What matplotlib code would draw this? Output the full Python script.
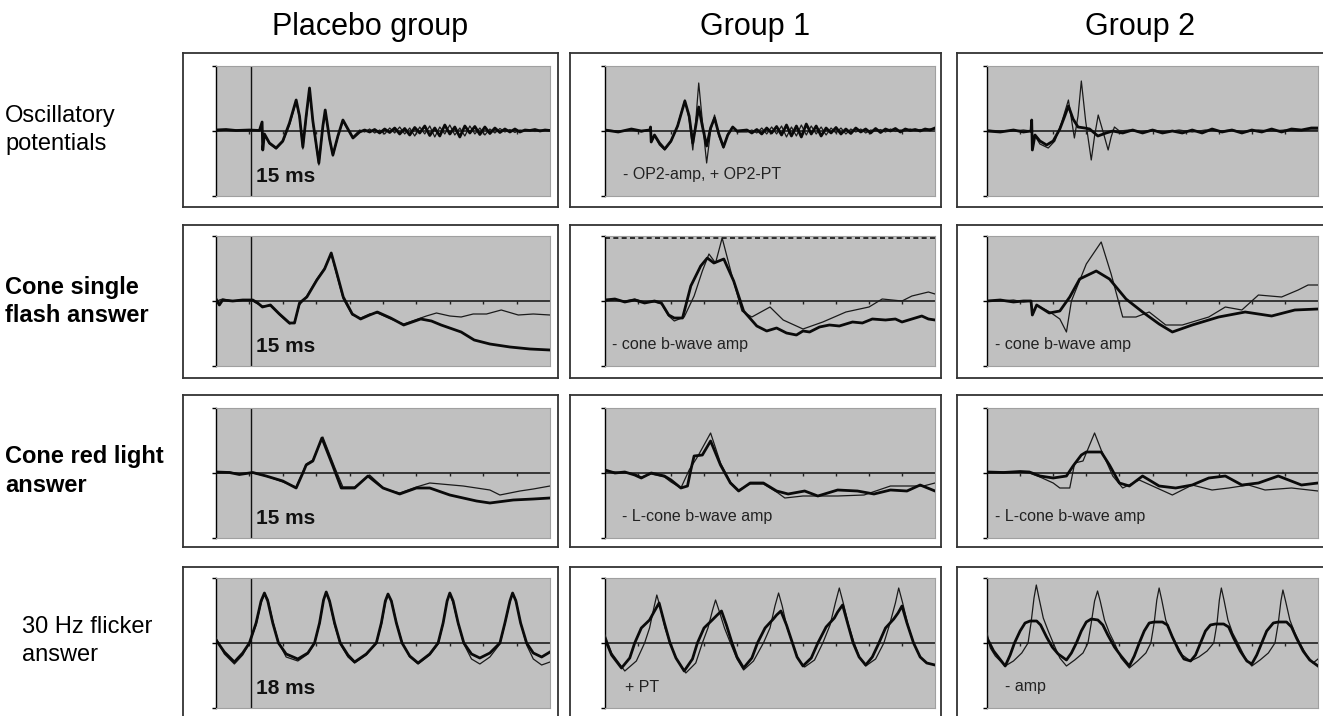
import matplotlib
matplotlib.use("Agg")
import matplotlib.pyplot as plt

plt.rcParams['font.family'] = ['Liberation Sans', 'DejaVu Sans']

# ---- labels ----
col_titles = ['Placebo group', 'Group 1', 'Group 2']
row_labels = ['Oscillatory\npotentials', 'Cone single\nflash answer',
              'Cone red light\nanswer', '30 Hz flicker\nanswer']
row_bold = [False, True, True, False]
notes = [['15 ms', '- OP2-amp, + OP2-PT', ''],
         ['15 ms', '- cone b-wave amp', '- cone b-wave amp'],
         ['15 ms', '- L-cone b-wave amp', '- L-cone b-wave amp'],
         ['18 ms', '+ PT', '- amp']]

# ---- oscillatory potentials ----
osc_p_x = [0, 0.3, 0.6, 1.0, 1.3, 1.38, 1.40, 1.45, 1.6, 1.8, 2.0, 2.2, 2.4, 2.5, 2.6, 2.7, 2.8, 2.9, 3.08, 3.2,
           3.27, 3.4, 3.5, 3.65, 3.8, 3.95, 4.1,
           4.3, 4.45, 4.6, 4.75, 4.9, 5.05, 5.2, 5.35, 5.5, 5.65, 5.8, 5.95, 6.1, 6.25, 6.4, 6.55, 6.7, 6.85,
           7.0, 7.15, 7.3, 7.45, 7.6, 7.75, 7.9, 8.05, 8.2, 8.35, 8.5, 8.65, 8.8, 8.95, 9.1, 9.25, 9.4, 9.55,
           9.7, 9.85, 10.0]
osc_p_thick = [0.1, 0.15, 0.05, 0.1, 0.05, 0.9, -1.9, -0.3, -1.2, -1.7, -1.0, 0.8, 3.1, 1.5, -1.6, 1.5, 4.3, 1.0,
               -3.2, 0.5, 2.1, -0.8, -2.4, -0.5, 1.1, 0.2, -0.7,
               -0.1, 0.1, -0.1, 0.15, -0.2, 0.2, -0.15, 0.3, -0.3, 0.25, -0.4, 0.35, -0.2, 0.5, -0.45, 0.3,
               -0.5, 0.6, -0.3, 0.4, -0.6, 0.5, -0.2, 0.45, -0.35, 0.4, -0.25, 0.3, -0.15, 0.2, -0.1, 0.2,
               -0.1, 0.1, 0.05, 0.15, 0.0, 0.1, 0.05]
osc_p_thin = [0.0, 0.1, 0.1, 0.0, 0.1, 0.9, -1.9, -0.4, -1.3, -1.8, -1.1, 0.6, 2.9, 1.3, -1.8, 1.2, 4.0, 0.8,
              -3.4, 0.3, 2.0, -0.9, -2.5, -0.6, 1.0, 0.1, -0.6,
              0.1, -0.1, 0.2, -0.2, 0.1, -0.3, 0.3, -0.2, 0.4, -0.3, 0.3, -0.5, 0.4, -0.3, 0.5, -0.6, 0.4,
              -0.3, 0.6, -0.4, 0.3, -0.5, 0.5, -0.3, 0.3, -0.4, 0.2, -0.2, 0.25, -0.1, 0.15, -0.15, 0.1,
              0.0, 0.1, -0.05, 0.1, 0.05, 0.1]

osc_1_x = [0.0, 0.4, 0.8, 1.1, 1.36, 1.38, 1.40, 1.5, 1.65, 1.81, 2.0, 2.2, 2.42, 2.55, 2.66, 2.75, 2.84, 2.95,
           3.08, 3.2, 3.32, 3.45, 3.59, 3.72, 3.87, 4.0,
           4.3, 4.45, 4.6, 4.75, 4.9, 5.05, 5.2, 5.35, 5.5, 5.65, 5.8, 5.95, 6.1, 6.25, 6.4, 6.55, 6.7, 6.85,
           7.0, 7.15, 7.3, 7.45, 7.6, 7.75, 7.9, 8.05, 8.2, 8.35, 8.5, 8.65, 8.8, 8.95, 9.1, 9.25, 9.4, 9.55,
           9.7, 9.85, 10.0]
osc_1_thick = [0.1, -0.1, 0.2, 0.0, 0.1, 0.4, -1.1, -0.4, -1.2, -1.8, -1.0, 0.5, 3.0, 1.5, -1.2, 0.5, 2.4, 0.5,
               -1.5, 0.3, 1.3, -0.3, -1.6, -0.4, 0.4, 0.0,
               0.1, -0.2, 0.15, -0.3, 0.3, -0.2, 0.45, -0.4, 0.6, -0.5, 0.5, -0.6, 0.7, -0.3, 0.5, -0.5, 0.3,
               -0.2, 0.35, -0.3, 0.2, -0.25, 0.3, -0.1, 0.2, -0.2, 0.25, -0.15, 0.2, 0.0, 0.25, -0.1, 0.2,
               0.05, 0.15, 0.0, 0.2, 0.1, 0.3]
osc_1_thin = [0.1, 0.0, 0.1, -0.1, 0.1, 0.4, -1.1, -0.5, -1.4, -1.9, -1.1, 0.6, 3.1, 1.2, -1.9, 1.0, 4.8, 1.0,
              -3.2, 0.0, 1.6, -0.5, -1.7, -0.3, 0.4, -0.1,
              -0.1, 0.1, -0.2, 0.3, -0.3, 0.4, -0.3, 0.5, -0.6, 0.4, -0.5, 0.6, -0.4, 0.5, -0.3, 0.4, -0.4,
              0.3, -0.2, 0.3, -0.3, 0.2, -0.1, 0.2, -0.2, 0.1, 0.0, 0.15, -0.1, 0.2, -0.05, 0.1, 0.0, 0.2,
              0.0, 0.15, 0.05, 0.2, 0.2]

osc_2_thick_x = [0.0, 0.4, 0.8, 1.1, 1.33, 1.35, 1.37, 1.45, 1.6, 1.8, 2.0, 2.2, 2.35, 2.46, 2.6, 2.75, 2.95,
                 3.1, 3.35, 3.6, 3.8, 4.1, 4.4, 4.7, 5.0, 5.3, 5.6, 5.9, 6.2, 6.5, 6.8, 7.1, 7.4, 7.7, 8.0, 8.3,
                 8.6, 8.9, 9.2, 9.5, 9.8, 10.0]
osc_2_thick = [0.0, -0.1, 0.1, -0.1, 0.0, 1.1, -1.9, -0.4, -1.0, -1.4, -1.0, 0.2, 1.5, 2.5, 1.2, 0.4, 0.3, 0.2,
               -0.5, -0.2, 0.0, -0.2, 0.1, -0.2, 0.1, -0.2, 0.0, -0.2, 0.1, -0.2, 0.2, -0.1, 0.1, -0.2, 0.1, -0.1,
               0.2, -0.1, 0.2, 0.1, 0.3, 0.3]
osc_2_thin_x = [0.0, 0.4, 0.8, 1.1, 1.33, 1.35, 1.37, 1.45, 1.6, 1.85, 2.05, 2.25, 2.46, 2.64, 2.75, 2.85, 2.98,
                3.15, 3.25, 3.36, 3.5, 3.66, 3.75, 3.85, 4.0, 4.3, 4.6, 5.0, 5.4, 5.8, 6.2, 6.6, 7.0, 7.4, 7.8,
                8.2, 8.6, 9.0, 9.4, 9.8, 10.0]
osc_2_thin = [0.1, 0.0, 0.0, 0.1, 0.0, 1.1, -1.9, -0.5, -1.3, -1.7, -1.0, 0.8, 3.1, -0.7, 1.5, 5.0, 1.0, -2.9,
              -0.5, 1.6, 0.0, -1.9, -0.6, 0.4, 0.0, 0.1, -0.1, 0.1, -0.1, 0.1, -0.1, 0.1, 0.0, 0.1, -0.1, 0.1,
              0.0, 0.1, 0.0, 0.1, 0.1]

# ---- cone single flash ----
cone_p_thick_x = [0.0, 0.1, 0.2, 0.5, 0.8, 1.1, 1.25, 1.39, 1.63, 1.9, 2.2, 2.35, 2.5, 2.72, 3.02, 3.25, 3.45,
                  3.6, 3.81, 4.08, 4.33, 4.6, 4.83, 5.23, 5.62, 6.13, 6.45, 6.74, 7.34, 7.73, 8.2, 8.8, 9.4, 10.0]
cone_p_thick = [0.2, -0.4, 0.1, 0.0, 0.1, 0.1, -0.2, -0.6, -0.4, -1.3, -2.2, -2.2, -0.2, 0.4, 2.1, 3.2, 4.8,
                3.0, 0.4, -1.3, -1.8, -1.4, -1.1, -1.7, -2.4, -1.8, -2.0, -2.4, -3.1, -3.9, -4.3, -4.6, -4.8, -4.9]
cone_p_thin_x = [0.0, 0.1, 0.2, 0.5, 0.8, 1.1, 1.25, 1.39, 1.63, 1.9, 2.2, 2.35, 2.5, 2.72, 3.02, 3.25, 3.45,
                 3.6, 3.81, 4.08, 4.33, 4.6, 4.83, 5.23, 5.62, 6.13, 6.3, 6.6, 7.0, 7.34, 7.7, 8.1, 8.54, 9.05,
                 9.5, 10.0]
cone_p_thin = [-0.1, 0.1, 0.2, 0.0, 0.1, 0.0, -0.3, -0.5, -0.5, -1.4, -2.3, -2.1, -0.4, 0.5, 2.2, 3.3, 4.7, 2.8,
               0.2, -1.4, -1.7, -1.3, -1.2, -1.8, -2.3, -1.7, -1.5, -1.2, -1.5, -1.6, -1.3, -1.3, -0.9, -1.4,
               -1.3, -1.4]

cone_1_thick_x = [0.0, 0.3, 0.6, 0.9, 1.2, 1.5, 1.71, 1.93, 2.1, 2.35, 2.6, 2.9, 3.1, 3.3, 3.6, 3.9, 4.2, 4.6,
                  4.9, 5.2, 5.5, 5.8, 6.0, 6.2, 6.5, 6.8, 7.1, 7.5, 7.8, 8.1, 8.5, 8.8, 9.0, 9.3, 9.6, 9.8, 10.0]
cone_1_thick = [0.1, 0.2, -0.1, 0.1, -0.2, 0.0, -0.2, -1.4, -1.7, -1.7, 1.5, 3.5, 4.3, 3.8, 4.2, 2.0, -1.0,
                -2.5, -3.0, -2.7, -3.2, -3.4, -3.0, -3.1, -2.6, -2.4, -2.5, -2.1, -2.2, -1.8, -1.9, -1.8, -2.1,
                -1.8, -1.5, -1.8, -1.9]
cone_1_thin_x = [0.0, 0.3, 0.6, 0.9, 1.2, 1.5, 1.71, 1.93, 2.1, 2.4, 2.7, 2.95, 3.15, 3.35, 3.55, 3.85, 4.15,
                 4.45, 5.0, 5.4, 6.0, 6.6, 7.3, 8.0, 8.4, 9.0, 9.3, 9.8, 10.0]
cone_1_thin = [0.0, 0.1, 0.0, 0.2, -0.1, -0.1, -0.3, -1.5, -2.0, -1.6, 0.5, 3.0, 4.7, 3.8, 6.3, 2.5, -1.0, -1.6,
               -0.6, -1.9, -2.8, -2.1, -1.1, -0.6, 0.2, 0.0, 0.5, 0.9, 0.7]

cone_2_thick_x = [0.0, 0.4, 0.8, 1.1, 1.33, 1.37, 1.5, 1.88, 2.2, 2.5, 2.8, 3.3, 3.7, 4.2, 4.7, 5.2, 5.6, 6.2,
                  7.0, 7.8, 8.6, 9.3, 10.0]
cone_2_thick = [0.0, 0.1, -0.1, 0.0, 0.0, -1.4, -0.4, -1.2, -1.0, 0.4, 2.2, 3.0, 2.2, 0.2, -1.1, -2.3, -3.1,
                -2.4, -1.6, -1.1, -1.5, -0.9, -0.8]
cone_2_thin_x = [0.0, 0.4, 0.8, 1.1, 1.33, 1.37, 1.5, 1.9, 2.2, 2.4, 2.55, 3.0, 3.45, 3.75, 4.1, 4.5, 4.9, 5.4,
                 5.9, 6.7, 7.2, 7.7, 8.2, 8.9, 9.4, 9.7, 10.0]
cone_2_thin = [0.0, 0.0, 0.1, -0.1, 0.0, -1.4, -0.4, -1.1, -1.8, -3.1, 0.0, 3.7, 5.9, 2.7, -1.6, -1.6, -1.1,
               -2.4, -2.4, -1.6, -0.6, -0.9, 0.6, 0.4, 1.1, 1.6, 1.6]

# ---- cone red light ----
red_p_thick_x = [0.0, 0.4, 0.7, 1.1, 1.5, 2.0, 2.4, 2.6, 2.7, 2.9, 3.17, 3.5, 3.75, 4.15, 4.55, 5.0, 5.5, 6.0,
                 6.4, 7.0, 7.8, 8.2, 8.9, 9.5, 10.0]
red_p_thick = [0.1, 0.05, -0.15, 0.05, -0.3, -0.8, -1.5, 0.0, 0.8, 1.2, 3.5, 0.7, -1.5, -1.5, -0.3, -1.5, -2.1,
               -1.5, -1.5, -2.2, -2.8, -3.0, -2.7, -2.6, -2.5]
red_p_thin_x = [0.0, 0.4, 0.7, 1.1, 1.5, 2.0, 2.4, 2.6, 2.7, 2.9, 3.2, 3.55, 3.8, 4.15, 4.6, 5.05, 5.5, 6.0,
                6.4, 7.4, 8.2, 8.5, 9.1, 9.5, 10.0]
red_p_thin = [0.0, 0.1, -0.1, 0.0, -0.3, -0.9, -1.4, 0.1, 0.9, 1.3, 3.6, 0.6, -1.4, -1.4, -0.2, -1.6, -2.0,
              -1.4, -1.0, -1.3, -1.7, -2.2, -1.8, -1.6, -1.3]

red_1_thick_x = [0.0, 0.3, 0.6, 0.9, 1.1, 1.4, 1.8, 2.0, 2.3, 2.5, 2.6, 2.7, 2.95, 3.2, 3.5, 3.8, 4.05, 4.4, 4.8,
                 5.2, 5.55, 6.05, 6.45, 7.05, 7.65, 8.15, 8.65, 9.15, 9.55, 10.0]
red_1_thick = [0.3, 0.0, 0.1, -0.2, -0.5, 0.0, -0.3, -0.7, -1.5, -1.3, 0.3, 1.7, 1.8, 3.2, 0.8, -1.0, -1.8,
               -1.0, -1.0, -1.8, -2.1, -1.8, -2.3, -1.7, -1.8, -2.1, -1.7, -1.8, -1.2, -1.8]
red_1_thin_x = [0.0, 0.3, 0.6, 0.9, 1.1, 1.4, 1.8, 2.0, 2.3, 2.55, 2.8, 3.2, 3.5, 3.8, 4.05, 4.4, 4.8, 5.2,
                5.45, 6.0, 7.05, 7.85, 8.65, 9.65, 10.0]
red_1_thin = [0.2, 0.1, 0.0, -0.1, -0.4, -0.1, -0.4, -0.9, -1.5, 0.3, 1.6, 4.0, 1.0, -0.9, -1.7, -1.1, -1.1,
              -1.9, -2.5, -2.3, -2.3, -2.2, -1.3, -1.3, -1.0]

red_2_thick_x = [0.0, 0.5, 1.0, 1.28, 1.6, 2.0, 2.4, 2.6, 2.85, 3.0, 3.45, 3.7, 4.0, 4.3, 4.7, 5.2, 5.7, 6.2,
                 6.7, 7.2, 7.7, 8.2, 8.8, 9.5, 10.0]
red_2_thick = [0.1, 0.05, 0.15, 0.1, -0.3, -0.5, -0.3, 0.7, 1.8, 2.1, 2.1, 0.8, -1.0, -1.3, -0.3, -1.3, -1.5,
               -1.2, -0.5, -0.3, -1.2, -1.0, -0.3, -1.2, -1.0]
red_2_thin_x = [0.0, 0.5, 1.0, 1.28, 1.6, 2.0, 2.2, 2.5, 2.65, 2.9, 3.25, 3.45, 3.8, 4.1, 4.6, 5.0, 5.6, 6.2,
                6.8, 7.3, 7.9, 8.4, 9.2, 10.0]
red_2_thin = [0.0, 0.1, 0.1, 0.0, -0.4, -1.0, -1.5, -1.5, 1.0, 1.2, 4.0, 2.3, -0.3, -1.5, -0.7, -1.3, -2.2,
              -1.2, -1.7, -1.5, -1.2, -1.7, -1.5, -1.8]

# ---- 30 Hz flicker ----
flk_p_x = [0.0, 0.25, 0.55, 0.8, 1.0, 1.2, 1.35, 1.45, 1.55, 1.7, 1.87, 2.1, 2.45, 2.75, 2.95, 3.1, 3.22, 3.3,
           3.4, 3.55, 3.72, 3.95, 4.15, 4.5, 4.8, 4.95, 5.07, 5.15, 5.25, 5.4, 5.57, 5.8, 6.05, 6.4, 6.65, 6.8,
           6.92, 7.0, 7.1, 7.25, 7.42, 7.65, 7.9, 8.2, 8.5, 8.65, 8.8, 8.88, 8.98, 9.12, 9.3, 9.5, 9.75, 10.0]
flk_p_thick = [0.3, -0.9, -1.9, -1.0, 0.0, 2.0, 4.2, 5.0, 4.2, 2.0, 0.0, -1.1, -1.6, -1.0, 0.0, 2.0, 4.3, 5.1,
               4.2, 2.0, 0.0, -1.2, -1.9, -1.1, 0.0, 2.0, 4.2, 4.9, 4.2, 2.0, 0.0, -1.3, -2.0, -1.1, 0.0, 2.0,
               4.2, 5.0, 4.2, 2.0, 0.0, -1.1, -1.5, -1.0, 0.0, 2.0, 4.2, 5.0, 4.2, 2.0, 0.0, -1.0, -1.4, -0.9]
flk_p_thin = [0.5, -1.1, -2.1, -1.2, 0.0, 1.8, 4.0, 4.9, 4.4, 2.2, 0.1, -1.4, -1.8, -1.1, 0.0, 1.9, 4.3, 5.1,
              4.1, 1.8, -0.1, -1.4, -2.0, -1.2, 0.0, 1.8, 4.0, 4.8, 4.3, 2.1, 0.1, -1.4, -2.1, -1.2, -0.1, 1.9,
              4.3, 4.9, 4.0, 1.9, -0.1, -1.6, -2.1, -1.4, -0.1, 1.9, 4.1, 5.0, 4.3, 2.0, -0.2, -1.6, -2.2, -1.9]

flk_1_thick_x = [0.0, 0.2, 0.5, 0.75, 0.9, 1.1, 1.35, 1.5, 1.64, 1.8, 1.97, 2.15, 2.4, 2.65, 2.8, 3.0, 3.25,
                 3.4, 3.53, 3.68, 3.85, 4.0, 4.2, 4.45, 4.62, 4.85, 5.1, 5.2, 5.33, 5.5, 5.68, 5.82, 6.0, 6.25,
                 6.45, 6.7, 6.95, 7.05, 7.2, 7.35, 7.52, 7.7, 7.9, 8.1, 8.3, 8.5, 8.75, 8.88, 9.0, 9.15, 9.35,
                 9.55, 9.75, 10.0]
flk_1_thick = [0.4, -1.2, -2.5, -1.5, 0.0, 1.5, 2.3, 3.2, 4.0, 2.0, 0.0, -1.5, -2.8, -1.6, 0.0, 1.5, 2.3, 2.8,
               3.2, 1.8, 0.0, -1.4, -2.5, -1.5, 0.0, 1.5, 2.4, 2.8, 3.2, 1.8, 0.0, -1.4, -2.3, -1.5, 0.0, 1.6,
               2.5, 3.1, 3.8, 2.0, 0.0, -1.4, -2.2, -1.4, 0.0, 1.5, 2.4, 3.0, 3.7, 2.0, 0.0, -1.4, -2.0, -2.2]
flk_1_thin_x = [0.0, 0.2, 0.6, 0.95, 1.2, 1.35, 1.48, 1.57, 1.68, 1.82, 1.97, 2.15, 2.45, 2.75, 2.95, 3.12,
                3.26, 3.35, 3.45, 3.62, 3.8, 4.0, 4.2, 4.5, 4.8, 5.0, 5.15, 5.26, 5.37, 5.52, 5.68, 5.85, 6.05,
                6.35, 6.6, 6.82, 6.98, 7.1, 7.22, 7.38, 7.55, 7.72, 7.9, 8.2, 8.45, 8.62, 8.8, 8.9, 9.02, 9.18,
                9.35, 9.55, 9.75, 10.0]
flk_1_thin = [0.8, -1.0, -2.8, -1.8, 0.0, 1.5, 3.5, 4.8, 3.5, 1.5, 0.0, -1.5, -3.0, -2.0, 0.0, 1.5, 3.3, 4.3,
              3.3, 1.5, 0.0, -1.6, -2.7, -1.8, 0.0, 1.5, 3.7, 5.0, 3.7, 1.5, 0.0, -1.6, -2.4, -1.7, 0.0, 1.8,
              4.0, 5.5, 4.0, 1.8, 0.0, -1.5, -2.3, -1.6, 0.0, 1.8, 4.0, 5.5, 4.0, 1.8, 0.0, -1.4, -2.0, -2.2]

flk_2_thick_x = [0.0, 0.2, 0.55, 0.7, 0.83, 1.0, 1.15, 1.3, 1.5, 1.62, 1.8, 1.97, 2.15, 2.4, 2.55, 2.7, 2.85,
                 3.0, 3.15, 3.35, 3.5, 3.65, 3.85, 4.05, 4.3, 4.45, 4.6, 4.75, 4.9, 5.05, 5.3, 5.45, 5.6, 5.8,
                 5.95, 6.15, 6.3, 6.45, 6.6, 6.75, 6.9, 7.15, 7.3, 7.45, 7.65, 7.85, 8.0, 8.15, 8.3, 8.45, 8.65,
                 8.8, 9.05, 9.2, 9.35, 9.55, 9.75, 10.0]
flk_2_thick = [0.5, -0.8, -2.3, -1.2, 0.0, 1.2, 2.0, 2.2, 2.2, 1.8, 0.6, -0.4, -1.1, -1.7, -1.0, 0.0, 1.2, 2.1,
               2.4, 2.3, 1.8, 0.8, -0.4, -1.3, -2.3, -1.3, 0.0, 1.2, 2.0, 2.1, 2.1, 1.8, 0.6, -0.8, -1.6, -1.8,
               -1.2, 0.0, 1.2, 1.8, 1.9, 1.9, 1.6, 0.5, -0.8, -1.8, -2.1, -1.2, 0.0, 1.2, 2.0, 2.1, 2.1, 1.6,
               0.5, -0.8, -1.7, -2.3]
flk_2_thin_x = [0.0, 0.1, 0.25, 0.55, 0.8, 1.05, 1.24, 1.33, 1.42, 1.49, 1.57, 1.7, 1.85, 2.0, 2.2, 2.4, 2.65,
                2.9, 3.05, 3.15, 3.25, 3.34, 3.42, 3.55, 3.7, 3.85, 4.05, 4.3, 4.55, 4.8, 4.95, 5.05, 5.13, 5.2,
                5.28, 5.4, 5.55, 5.7, 5.9, 6.15, 6.4, 6.65, 6.85, 6.95, 7.02, 7.08, 7.16, 7.28, 7.42, 7.58, 7.8,
                8.0, 8.25, 8.5, 8.7, 8.8, 8.88, 8.94, 9.02, 9.15, 9.3, 9.45, 9.65, 9.85, 10.0]
flk_2_thin = [1.0, -0.5, -1.3, -2.3, -1.8, -1.0, 0.0, 2.0, 4.5, 5.8, 4.5, 2.5, 1.2, 0.0, -1.5, -2.3, -1.7, -1.0,
              0.0, 2.0, 4.2, 5.2, 4.2, 2.3, 1.0, 0.0, -1.5, -2.5, -1.8, -1.0, 0.0, 2.0, 4.3, 5.5, 4.3, 2.3, 1.0,
              0.0, -1.2, -1.8, -1.4, -0.8, 0.0, 2.0, 4.3, 5.5, 4.3, 2.3, 1.0, 0.0, -1.5, -2.3, -1.7, -1.0, 0.0,
              2.0, 4.2, 5.3, 4.2, 2.3, 1.0, 0.0, -1.2, -2.0, -1.6]

traces = [
    [(osc_p_x, osc_p_thick, osc_p_x, osc_p_thin),
     (osc_1_x, osc_1_thick, osc_1_x, osc_1_thin),
     (osc_2_thick_x, osc_2_thick, osc_2_thin_x, osc_2_thin)],
    [(cone_p_thick_x, cone_p_thick, cone_p_thin_x, cone_p_thin),
     (cone_1_thick_x, cone_1_thick, cone_1_thin_x, cone_1_thin),
     (cone_2_thick_x, cone_2_thick, cone_2_thin_x, cone_2_thin)],
    [(red_p_thick_x, red_p_thick, red_p_thin_x, red_p_thin),
     (red_1_thick_x, red_1_thick, red_1_thin_x, red_1_thin),
     (red_2_thick_x, red_2_thick, red_2_thin_x, red_2_thin)],
    [(flk_p_x, flk_p_thick, flk_p_x, flk_p_thin),
     (flk_1_thick_x, flk_1_thick, flk_1_thin_x, flk_1_thin),
     (flk_2_thick_x, flk_2_thick, flk_2_thin_x, flk_2_thin)],
]

# ---- layout (pixels) ----
W, H = 1323, 716
box_x = [(183, 558), (570, 941), (957, 1328)]
gray_x = [(216, 550), (605, 935), (987, 1318)]
box_y = [(53, 207), (225, 378), (395, 547), (567, 722)]
gray_top = [66, 236, 408, 578]
gray_h = 130
title_x = [370, 755, 1140]
note_x = [[1.2, 0.55, 0.25], [1.2, 0.2, 0.25], [1.2, 0.5, 0.25], [1.2, 0.6, 0.55]]


def rect(x0, x1, y0, y1):
    return [x0 / W, 1 - y1 / H, (x1 - x0) / W, (y1 - y0) / H]


fig = plt.figure(figsize=(W / 100, H / 100), dpi=100)

for c, t in enumerate(col_titles):
    fig.text(title_x[c] / W, 1 - 27 / H, t, ha='center', va='center', fontsize=22)

for r, lab in enumerate(row_labels):
    yc = sum(box_y[r]) / 2 if r < 3 else 641
    fig.text((22 if r == 3 else 5) / W, 1 - yc / H, lab, ha='left', va='center',
             fontsize=17, fontweight='bold' if row_bold[r] else 'normal', linespacing=1.3)

for r in range(4):
    for c in range(3):
        bx = fig.add_axes(rect(box_x[c][0], box_x[c][1], box_y[r][0], box_y[r][1]))
        bx.set_xticks([])
        bx.set_yticks([])
        for s in bx.spines.values():
            s.set_linewidth(1.3)
            s.set_color('#333333')

        ax = fig.add_axes(rect(gray_x[c][0], gray_x[c][1], gray_top[r], gray_top[r] + gray_h))
        ax.set_facecolor('#c0c0c0')
        ax.set_xlim(0, 10)
        ax.set_ylim(-6.5, 6.5)
        ax.set_xticks([])
        ax.set_yticks([-6.5, 0, 6.5])
        ax.set_yticklabels([])
        ax.tick_params(axis='y', length=3, width=1, color='black')
        for s in ['top', 'right', 'bottom']:
            ax.spines[s].set_color('#a0a0a0')
            ax.spines[s].set_linewidth(0.8)
        ax.spines['left'].set_linewidth(1.0)

        ax.axhline(0, color='#111111', lw=1.1, zorder=2)
        ax.plot(range(1, 10), [0] * 9, ls='none', marker=3, ms=2.5, color='#222222', zorder=2)
        if c == 0:
            ax.axvline(1.05, color='#111111', lw=1.0, zorder=2)
        if r == 1 and c == 1:
            ax.axhline(6.35, color='#111111', lw=1.2, ls=(0, (3, 2)), zorder=2)

        tx, ty, nx, ny = traces[r][c]
        ax.plot(nx, ny, color='#1a1a1a', lw=0.9, zorder=3)
        ax.plot(tx, ty, color='#0a0a0a', lw=2.0, zorder=4)

        if c == 0:
            ax.text(note_x[r][c], -4.5, notes[r][c], fontsize=15, fontweight='bold',
                    ha='left', va='center', color='#111111')
        else:
            ax.text(note_x[r][c], -4.4, notes[r][c], fontsize=11.5,
                    ha='left', va='center', color='#222222')

fig.savefig('out.png', dpi=100)
plt.close(fig)
